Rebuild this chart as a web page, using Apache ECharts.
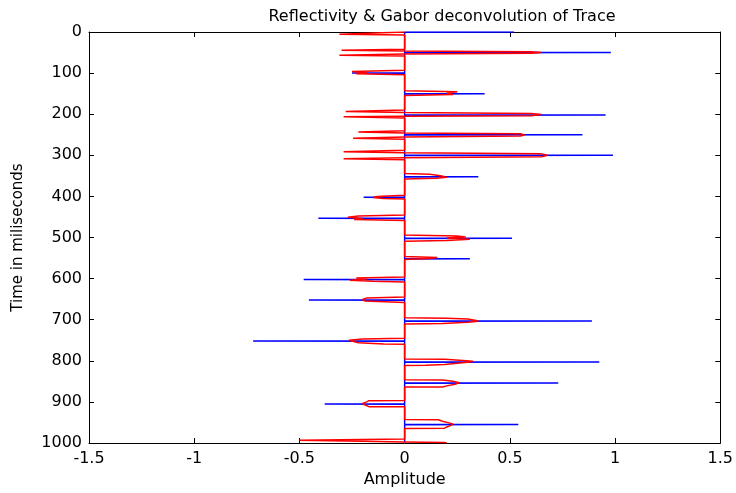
<!DOCTYPE html>
<html>
<head>
<meta charset="utf-8">
<script src="https://cdn.jsdelivr.net/npm/echarts@6/dist/echarts.min.js"></script>
<style>
html,body{margin:0;padding:0;background:#fff;}
#chart{width:736px;height:493px;}
</style>
</head>
<body>
<div id="chart"></div>
<script>
// Reflectivity spikes (blue)
const spikeTimes = [0, 50, 100, 150, 202, 250, 300, 352, 402, 453, 502, 552, 602, 652, 703, 752, 803, 854, 905, 955];
const spikeAmps  = [0.52, 0.98, -0.25, 0.38, 0.955, 0.845, 0.99, 0.35, -0.195, -0.41, 0.51, 0.31, -0.48, -0.455, 0.89, -0.72, 0.925, 0.73, -0.38, 0.54];

// Gabor deconvolution trace (red): time (ms) and amplitude samples
const traceTime = [
  0, 4, 5.5, 7,
  42, 44.5, 46.5, 48, 50, 52, 53.5, 55, 56.5, 58.5,
  93, 96, 98.5, 101.5, 104,
  143, 145.5, 148.5, 152, 154.5,
  190, 193.5, 196, 198, 201, 203.5, 205, 206.5, 209,
  240, 243.5, 245.5, 247.5, 250.5, 253, 255.5, 258.5, 261,
  288, 291.5, 294, 296.5, 300, 303.5, 306, 308.5, 311,
  344, 346, 350, 353.5, 356, 357.5,
  397, 400, 402.5, 405, 406.5,
  445, 447.5, 451, 454, 456.5, 458.5,
  494, 496.5, 499, 501.5, 504.5, 507, 509,
  546, 548.5, 551, 553.5,
  596, 598.5, 601, 604, 606.5, 608,
  645, 647, 651, 654.5, 658,
  695, 696.5, 698.5, 702, 703.5, 706, 709, 710.5,
  745, 747, 750, 753, 756, 759, 760,
  795.5, 796, 798.5, 801, 803.5, 806, 809, 811, 811.5,
  846, 846.5, 850, 853.5, 857, 861, 863.5, 864,
  896.5, 897, 900, 903.5, 907, 911.5, 912,
  943, 943.5, 947, 951, 954, 957, 961, 964, 964.5,
  990, 993.5, 996, 997.5, 999, 1000
];
const traceAmp = [
  0, 0, -0.31, 0,
  0, -0.30, 0, 0.6, 0.65, 0.6, 0, 0, -0.31, 0,
  0, -0.25, -0.18, -0.23, 0,
  0, 0.25, 0.2, 0.23, 0,
  0, -0.28, 0, 0.6, 0.65, 0.6, 0, -0.29, 0,
  0, -0.22, 0, 0.55, 0.57, 0.55, 0, -0.245, 0,
  0, -0.29, 0, 0.65, 0.68, 0.65, 0, -0.29, 0,
  0, 0.12, 0.17, 0.2, 0.15, 0,
  0, -0.13, -0.15, -0.1, 0,
  0, -0.22, -0.27, -0.2, -0.24, 0,
  0, 0.25, 0.29, 0.2, 0.31, 0.2, 0,
  0, 0.155, 0.12, 0,
  0, -0.23, -0.18, -0.26, -0.15, 0,
  0, -0.18, -0.2, -0.19, 0,
  0, 0.2, 0.3, 0.34, 0.35, 0.3, 0.18, 0,
  0, -0.2, -0.265, -0.26, -0.22, -0.1, 0,
  0, 0.19, 0.26, 0.325, 0.3, 0.25, 0.19, 0.1, 0,
  0, 0.18, 0.23, 0.26, 0.24, 0.2, 0.18, 0,
  0, -0.17, -0.18, -0.2, -0.19, -0.17, 0,
  0, 0.16, 0.18, 0.21, 0.23, 0.22, 0.2, 0.19, 0,
  0, -0.5, -0.2, 0, 0.19, 0.2
];

// Axis ticks
const xTickValues = [-1.5, -1, -0.5, 0, 0.5, 1, 1.5];
const yTickValues = [0, 100, 200, 300, 400, 500, 600, 700, 800, 900, 1000];

// Blue stem-like trace: zero baseline with a sample jutting out at each spike
const blueData = [[0, 0]];
spikeTimes.forEach((t, i) => {
  if (t > 0) blueData.push([0, t - 0.6]);
  blueData.push([spikeAmps[i], t]);
  blueData.push([0, t + 0.6]);
});
blueData.push([0, 1000]);

const redData = [];
traceTime.forEach((t, i) => redData.push([traceAmp[i], t]));

const FONT = 'DejaVu Sans';
const axisLineStyle = { color: '#000', width: 1 };
const plain = v => String(v);

const chart = echarts.init(document.getElementById('chart'), null, { renderer: 'canvas' });
chart.setOption({
  animation: false,
  backgroundColor: '#fff',
  title: {
    text: 'Reflectivity & Gabor deconvolution of Trace',
    left: 437, top: 4, textAlign: 'center',
    textStyle: { fontFamily: FONT, fontSize: 16, fontWeight: 'normal', color: '#000' }
  },
  grid: { left: 89, right: 14, top: 32, bottom: 49, containLabel: false },
  xAxis: [{
    type: 'value', position: 'bottom',
    min: xTickValues[0], max: xTickValues[xTickValues.length - 1], interval: 0.5,
    name: 'Amplitude', nameLocation: 'middle', nameGap: 29,
    nameTextStyle: { fontFamily: FONT, fontSize: 16, color: '#000' },
    axisLine: { show: true, onZero: false, lineStyle: axisLineStyle },
    axisTick: { show: true, inside: true, length: 5, lineStyle: axisLineStyle },
    axisLabel: { fontFamily: FONT, fontSize: 16, color: '#000', margin: 8, formatter: plain },
    splitLine: { show: false }
  }, {
    type: 'value', position: 'top',
    min: xTickValues[0], max: xTickValues[xTickValues.length - 1], interval: 0.5,
    axisLine: { show: true, onZero: false, lineStyle: axisLineStyle },
    axisTick: { show: true, inside: true, length: 5, lineStyle: axisLineStyle },
    axisLabel: { show: false },
    splitLine: { show: false }
  }],
  yAxis: [{
    type: 'value', position: 'left', inverse: true,
    min: yTickValues[0], max: yTickValues[yTickValues.length - 1], interval: 100,
    name: 'Time in miliseconds', nameLocation: 'middle', nameGap: 63,
    nameTextStyle: { fontFamily: FONT, fontSize: 15, color: '#000' },
    axisLine: { show: true, onZero: false, lineStyle: axisLineStyle },
    axisTick: { show: true, inside: true, length: 5, lineStyle: axisLineStyle },
    axisLabel: { fontFamily: FONT, fontSize: 16, color: '#000', margin: 7, formatter: plain },
    splitLine: { show: false }
  }, {
    type: 'value', position: 'right', inverse: true,
    min: yTickValues[0], max: yTickValues[yTickValues.length - 1], interval: 100,
    axisLine: { show: true, onZero: false, lineStyle: axisLineStyle },
    axisTick: { show: true, inside: true, length: 5, lineStyle: axisLineStyle },
    axisLabel: { show: false },
    splitLine: { show: false }
  }],
  series: [{
    name: 'Reflectivity', type: 'line', xAxisIndex: 0, yAxisIndex: 0,
    data: blueData, showSymbol: false, symbol: 'none',
    lineStyle: { color: '#0000ff', width: 1.5 }, clip: true, z: 2
  }, {
    name: 'Gabor deconvolution', type: 'line', xAxisIndex: 0, yAxisIndex: 0,
    data: redData, showSymbol: false, symbol: 'none',
    lineStyle: { color: '#ff0000', width: 1.5 }, clip: true, z: 3
  }]
});
</script>
</body>
</html>
